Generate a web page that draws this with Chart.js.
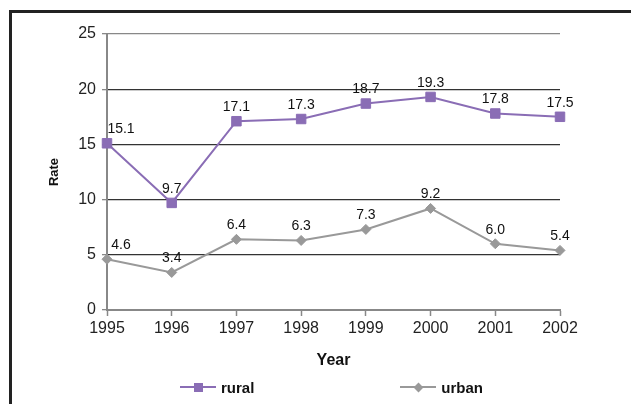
<!DOCTYPE html>
<html>
<head>
<meta charset="utf-8">
<script src="https://cdn.jsdelivr.net/npm/chart.js@4.4.1/dist/chart.umd.min.js"></script>
<style>
  html, body { margin: 0; padding: 0; background: #fff; }
  .wrap { position: relative; width: 631px; height: 404px; overflow: hidden; }
  .frame { position: absolute; left: 9px; top: 10px; width: 700px; height: 500px;
           border-left: 3px solid #222; border-top: 3px solid #222; }
  canvas { position: absolute; left: 0; top: 0; }
  .legend { position: absolute; left: 180px; top: 378px; display: flex; gap: 146px;
            font: bold 15px "Liberation Sans", Arial, sans-serif; color: #111; }
  .legend-item { display: flex; align-items: center; height: 18px; }
  .legend-line { position: relative; width: 36px; height: 2px; margin-right: 5px; }
  .legend-mark { position: absolute; left: 50%; top: 50%; }
  .legend-mark.rect { width: 9px; height: 9px; margin: -4.5px 0 0 -4.5px; }
  .legend-mark.rectRot { width: 7px; height: 7px; margin: -3.5px 0 0 -3.5px; transform: rotate(45deg); }
</style>
</head>
<body>
<div class="wrap">
  <div class="frame"></div>
  <canvas id="lineChart" width="631" height="404"></canvas>
  <div class="legend" id="lineLegend"></div>
</div>
<script>
const YEARS = ['1995', '1996', '1997', '1998', '1999', '2000', '2001', '2002'];
const RURAL = [15.1, 9.7, 17.1, 17.3, 18.7, 19.3, 17.8, 17.5];
const URBAN = [4.6, 3.4, 6.4, 6.3, 7.3, 9.2, 6.0, 5.4];
const Y_TICKS = [0, 5, 10, 15, 20, 25];

const SERIES = [
  { label: 'rural', data: RURAL, color: '#8A6DB5', point: 'rect', radius: 6.7 },
  { label: 'urban', data: URBAN, color: '#999999', point: 'rectRot', radius: 5 },
];

const FONT = '"Liberation Sans", Arial, sans-serif';

// value labels above each point; first column nudged right like the original
const valueLabels = {
  id: 'valueLabels',
  afterDatasetsDraw(chart) {
    const ctx = chart.ctx;
    ctx.save();
    ctx.font = '14px ' + FONT;
    ctx.fillStyle = '#111';
    ctx.textAlign = 'center';
    ctx.textBaseline = 'middle';
    chart.data.datasets.forEach((ds, di) => {
      chart.getDatasetMeta(di).data.forEach((pt, i) => {
        const dx = i === 0 ? 14 : 0;
        ctx.fillText(ds.data[i].toFixed(1), pt.x + dx, pt.y - 14);
      });
    });
    ctx.restore();
  },
};

// ── Legend (html) ──────────────────────────────────────────────────────────────
document.getElementById('lineLegend').innerHTML = SERIES.map(s =>
  `<span class="legend-item"><span class="legend-line" style="background:${s.color}">` +
  `<span class="legend-mark ${s.point}" style="background:${s.color}"></span></span>${s.label}</span>`
).join('');

// ── Line chart ─────────────────────────────────────────────────────────────────
new Chart(document.getElementById('lineChart'), {
  type: 'line',
  data: {
    labels: YEARS,
    datasets: SERIES.map(s => ({
      label: s.label,
      data: s.data,
      borderColor: s.color,
      backgroundColor: s.color,
      borderWidth: 2,
      pointStyle: s.point,
      pointRadius: s.radius,
      pointBackgroundColor: s.color,
      pointBorderColor: s.color,
      pointBorderWidth: 1,
      tension: 0,
    })),
  },
  options: {
    responsive: false,
    animation: false,
    layout: { padding: { left: 45, right: 71, top: 34, bottom: 34 } },
    plugins: { legend: { display: false }, tooltip: { enabled: false } },
    scales: {
      x: {
        offset: false,
        grid: { drawOnChartArea: false, tickLength: 6, tickColor: '#888', tickWidth: 1.5 },
        border: { color: '#888', width: 2 },
        ticks: { font: { size: 16, family: FONT }, color: '#222', padding: 3, maxRotation: 0 },
        title: { display: true, text: 'Year', color: '#111',
                 font: { size: 16, weight: 'bold', family: FONT }, padding: { top: 4, bottom: 0 } },
        afterFit: s => { s.height = 60; },
      },
      y: {
        min: Y_TICKS[0],
        max: Y_TICKS[Y_TICKS.length - 1],
        afterBuildTicks: s => { s.ticks = Y_TICKS.map(v => ({ value: v })); },
        grid: {
          color: c => (c.tick && c.tick.value === 25) ? '#888' : '#333',
          lineWidth: 1.3,
          tickLength: 5,
          tickColor: '#888',
        },
        border: { color: '#888', width: 2 },
        ticks: { font: { size: 16, family: FONT }, color: '#222', padding: 6 },
        title: { display: true, text: 'Rate', color: '#111',
                 font: { size: 13, weight: 'bold', family: FONT }, padding: { top: 2, bottom: 4 } },
        afterFit: s => { s.width = 62; },
      },
    },
  },
  plugins: [valueLabels],
});
</script>
</body>
</html>
